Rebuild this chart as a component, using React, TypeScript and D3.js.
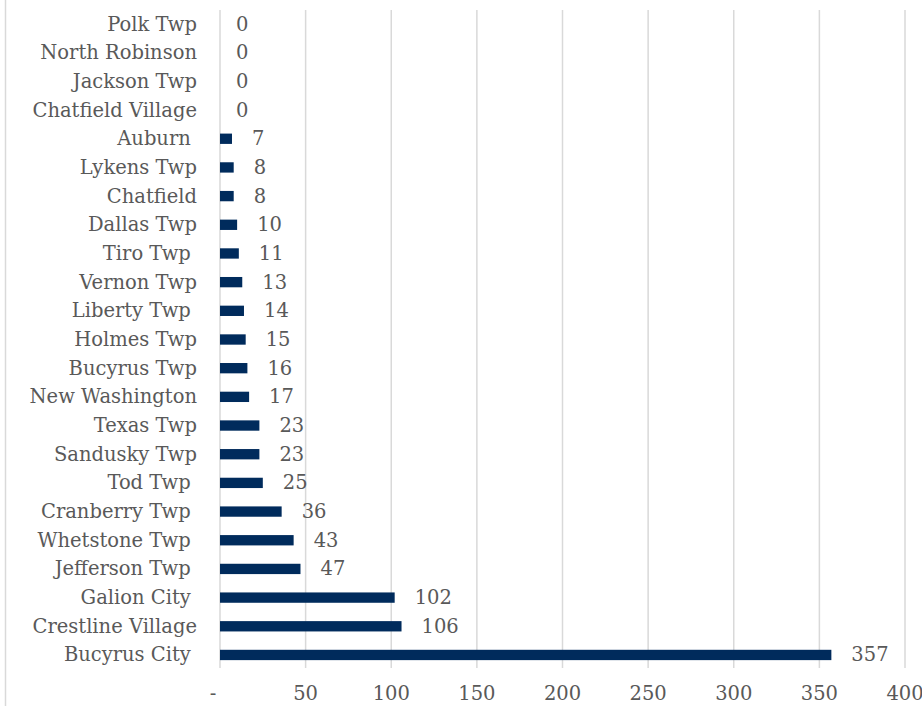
import React from "react";
import * as d3 from "d3";

// top to bottom, as in the chart (trailing spaces kept from the source sheet)
const places = [
  "Polk Twp", "North Robinson", "Jackson Twp", "Chatfield Village", "Auburn ",
  "Lykens Twp", "Chatfield", "Dallas Twp", "Tiro Twp ", "Vernon Twp",
  "Liberty Twp ", "Holmes Twp", "Bucyrus Twp", "New Washington", "Texas Twp",
  "Sandusky Twp", "Tod Twp ", "Cranberry Twp ", "Whetstone Twp ", "Jefferson Twp ",
  "Galion City ", "Crestline Village", "Bucyrus City ",
];
const counts = [0, 0, 0, 0, 7, 8, 8, 10, 11, 13, 14, 15, 16, 17, 23, 23, 25, 36, 43, 47, 102, 106, 357];
const ticks = [0, 50, 100, 150, 200, 250, 300, 350, 400];

const W = 922;
const H = 706;
const FONT = "'DejaVu Serif', serif";
const TEXT = "#595959";
const GRID = "#d9d9d9";
const BAR = "#002b5c";

export default function App() {
  const x = d3.scaleLinear().domain([0, 400]).range([220, 905]);
  const y = d3.scaleBand<string>()
    .domain(places)
    .range([9.7, 669.3])
    .paddingInner(0.64)
    .paddingOuter(0.32);
  const bw = y.bandwidth();

  return (
    <svg width={W} height={H} style={{ position: "absolute", left: 0, top: 0, background: "#fff" }}
      fontFamily={FONT} fontSize={19.5}>
      <line x1={5.5} x2={5.5} y1={0} y2={H} stroke={GRID} strokeWidth={1.5} />
      {ticks.map(t => (
        <g key={t}>
          <line x1={x(t)} x2={x(t)} y1={10} y2={668} stroke={GRID} strokeWidth={1.5} />
          <text x={x(t) + (t === 0 ? -7 : 0)} y={693} textAnchor="middle" dominantBaseline="central" fill={TEXT}>
            {t === 0 ? "-" : d3.format(",")(t)}
          </text>
        </g>
      ))}
      {places.map((p, i) => {
        const cy = (y(p) ?? 0) + bw / 2;
        return (
          <g key={p}>
            <text x={197} y={cy} textAnchor="end" dominantBaseline="central" fill={TEXT}
              style={{ whiteSpace: "pre" }}>{p}</text>
            {counts[i] > 0 && (
              <rect x={x(0)} y={y(p)} width={x(counts[i]) - x(0)} height={bw} fill={BAR} />
            )}
            <text x={x(counts[i]) + (counts[i] > 0 ? 20 : 16)} y={cy} dominantBaseline="central" fill={TEXT}>
              {counts[i]}
            </text>
          </g>
        );
      })}
    </svg>
  );
}
